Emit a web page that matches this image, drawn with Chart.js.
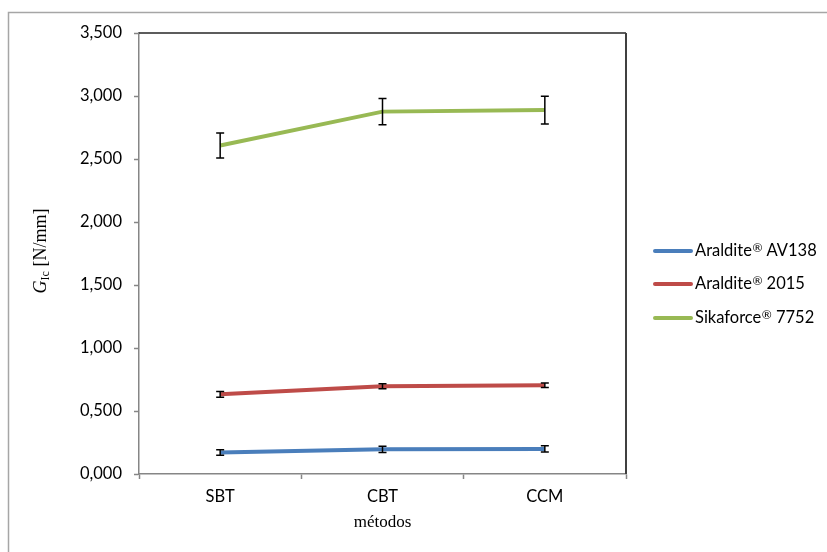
<!DOCTYPE html>
<html>
<head>
<meta charset="utf-8">
<script src="https://cdn.jsdelivr.net/npm/chart.js@4/dist/chart.umd.min.js"></script>
<style>
  html, body { margin: 0; padding: 0; background: #fff; }
  #wrap { width: 827px; height: 552px; position: relative; }
</style>
</head>
<body>
<div id="wrap"><canvas id="c" width="827" height="552"></canvas></div>
<script>
// Métodos de redução de dados (eixo x)
const categories = ['SBT', 'CBT', 'CCM'];

// Nomes dos adesivos (legenda)
const seriesNames = ['Araldite® AV138', 'Araldite® 2015', 'Sikaforce® 7752'];

// G_Ic médio [N/mm] por adesivo
const av138 = [0.170, 0.196, 0.199];
const a2015 = [0.632, 0.696, 0.704];
const sika7752 = [2.607, 2.876, 2.888];

// Desvio padrão (barras de erro)
const av138Err = [0.022, 0.025, 0.025];
const a2015Err = [0.022, 0.020, 0.018];
const sika7752Err = [0.100, 0.104, 0.110];

// Marcas do eixo y
const yTicks = [0, 0.5, 1.0, 1.5, 2.0, 2.5, 3.0, 3.5];

const seriesColors = ['#4a7ebb', '#be4b48', '#98b954'];
const sans = 'Lato, "Open Sans", sans-serif';
const serif = '"Liberation Serif", "DejaVu Serif", serif';

const errorSets = [av138Err, a2015Err, sika7752Err];

const errorBars = {
  id: 'errorBars',
  afterDatasetsDraw(chart) {
    const ctx = chart.ctx;
    const ys = chart.scales.y;
    ctx.save();
    ctx.strokeStyle = '#000';
    ctx.lineWidth = 1.5;
    chart.data.datasets.forEach((ds, i) => {
      const meta = chart.getDatasetMeta(i);
      meta.data.forEach((pt, j) => {
        const v = ds.data[j], e = errorSets[i][j];
        const x = pt.x;
        const yT = ys.getPixelForValue(v + e);
        const yB = ys.getPixelForValue(v - e);
        ctx.beginPath();
        ctx.moveTo(x, yT); ctx.lineTo(x, yB);
        ctx.moveTo(x - 4, yT); ctx.lineTo(x + 4, yT);
        ctx.moveTo(x - 4, yB); ctx.lineTo(x + 4, yB);
        ctx.stroke();
      });
    });
    ctx.restore();
  }
};

const decorations = {
  id: 'decorations',
  beforeDraw(chart) {
    const ctx = chart.ctx;
    ctx.save();
    ctx.fillStyle = '#fff';
    ctx.fillRect(0, 0, chart.width, chart.height);
    // moldura externa
    ctx.strokeStyle = '#a6a6a6';
    ctx.lineWidth = 1.5;
    ctx.strokeRect(8.5, 12.5, 1000, 1000);
    ctx.restore();
  },
  afterDraw(chart) {
    const ctx = chart.ctx;
    const a = chart.chartArea;
    ctx.save();
    // contorno superior e direito da área de plotagem
    ctx.strokeStyle = '#262626';
    ctx.lineWidth = 1.5;
    ctx.beginPath();
    ctx.moveTo(a.left, a.top);
    ctx.lineTo(a.right, a.top);
    ctx.stroke();
    ctx.strokeStyle = '#404040';
    ctx.lineWidth = 2;
    ctx.beginPath();
    ctx.moveTo(a.right, a.top);
    ctx.lineTo(a.right, a.bottom);
    ctx.stroke();

    // título do eixo x
    ctx.fillStyle = '#000';
    ctx.font = '17px ' + serif;
    ctx.textAlign = 'center';
    ctx.textBaseline = 'middle';
    ctx.fillText('métodos', (a.left + a.right) / 2, 523);

    // título do eixo y: G_Ic [N/mm]
    ctx.save();
    ctx.translate(40, 251);
    ctx.rotate(-Math.PI / 2);
    const partG = 'G', partSub = 'Ic', partRest = ' [N/mm]';
    ctx.font = 'italic 18px ' + serif;
    const wG = ctx.measureText(partG).width;
    ctx.font = '12px ' + serif;
    const wS = ctx.measureText(partSub).width;
    ctx.font = '18px ' + serif;
    const wR = ctx.measureText(partRest).width;
    let x = -(wG + wS + wR) / 2;
    ctx.textAlign = 'left';
    ctx.textBaseline = 'alphabetic';
    ctx.font = 'italic 18px ' + serif;
    ctx.fillText(partG, x, 6); x += wG;
    ctx.font = '12px ' + serif;
    ctx.fillText(partSub, x, 9); x += wS;
    ctx.font = '18px ' + serif;
    ctx.fillText(partRest, x, 6);
    ctx.restore();

    // legenda
    const legY = [251, 284, 318];
    chart.data.datasets.forEach((ds, i) => {
      const y = legY[i];
      ctx.strokeStyle = ds.borderColor;
      ctx.lineWidth = 4;
      ctx.lineCap = 'round';
      ctx.beginPath();
      ctx.moveTo(655, y); ctx.lineTo(691, y);
      ctx.stroke();
      const [pre, post] = ds.label.split('®');
      ctx.fillStyle = '#000';
      ctx.textBaseline = 'middle';
      ctx.textAlign = 'left';
      let tx = 695;
      ctx.font = '16.5px ' + sans;
      ctx.fillText(pre, tx, y);
      tx += ctx.measureText(pre).width + 0.5;
      ctx.font = '12px ' + sans;
      ctx.fillText('®', tx, y - 3);
      tx += ctx.measureText('®').width;
      ctx.font = '16.5px ' + sans;
      ctx.fillText(post, tx, y);
    });
    ctx.restore();
  }
};

const seriesData = [av138, a2015, sika7752];

new Chart(document.getElementById('c'), {
  type: 'line',
  data: {
    labels: categories,
    datasets: seriesData.map((d, i) => ({
      label: seriesNames[i],
      data: d,
      borderColor: seriesColors[i],
      backgroundColor: seriesColors[i],
      borderWidth: 4,
      pointRadius: 0,
      tension: 0,
      fill: false
    }))
  },
  options: {
    responsive: false,
    animation: false,
    events: [],
    layout: { padding: { top: 33, right: 201, left: 0, bottom: 0 } },
    plugins: {
      legend: { display: false },
      tooltip: { enabled: false },
      title: { display: false }
    },
    scales: {
      x: {
        offset: true,
        grid: {
          offset: true,
          drawOnChartArea: false,
          drawTicks: true,
          tickLength: 5,
          tickWidth: 1.5,
          tickColor: '#868686'
        },
        border: { color: '#868686', width: 1.5 },
        ticks: {
          color: '#000',
          font: { family: sans, size: 16.5 },
          padding: 8,
          maxRotation: 0
        },
        afterFit(s) { s.height = 78; }
      },
      y: {
        min: 0,
        max: 3.5,
        afterBuildTicks(s) { s.ticks = yTicks.map(v => ({ value: v })); },
        grid: {
          drawOnChartArea: false,
          drawTicks: true,
          tickLength: 5,
          tickWidth: 1.5,
          tickColor: '#868686'
        },
        border: { color: '#868686', width: 1.5 },
        ticks: {
          color: '#000',
          font: { family: sans, size: 16.5 },
          padding: 12,
          callback: v => Number(v).toFixed(3).replace('.', ',')
        },
        afterFit(s) { s.width = 139; }
      }
    }
  },
  plugins: [decorations, errorBars]
});
</script>
</body>
</html>
